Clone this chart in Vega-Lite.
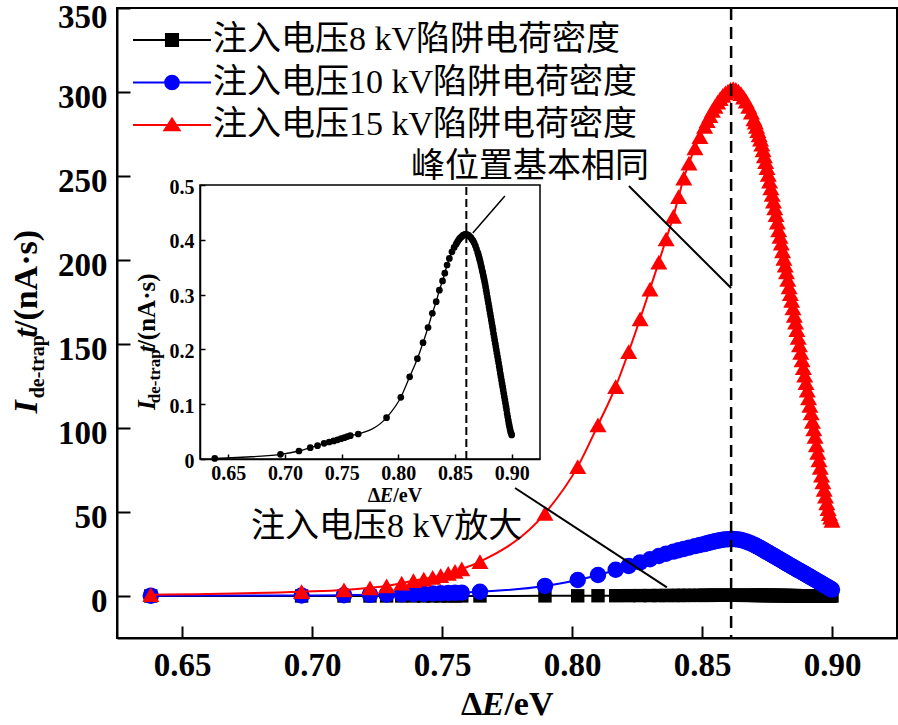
{
"$schema":"https://vega.github.io/schema/vega-lite/v6.json",
"width":780,"height":630,
"autosize":{"type":"none"},
"padding":{"left":117,"top":8,"right":1,"bottom":87},
"background":"white",
"config":{"view":{"stroke":"black","strokeWidth":2},"axis":{"grid":false,"domainColor":"black","tickColor":"black","labelColor":"black","labelFont":"Liberation Serif","labelFontWeight":"bold","labelOverlap":false,"labelFlush":false}},
"datasets":{"d":[
{"x":0.638,"k8":0.001,"k10":0.2,"k15":0.8},
{"x":0.696,"k8":0.0086,"k10":0.3,"k15":2.6},
{"x":0.7123,"k8":0.0146,"k10":0.5,"k15":3.6},
{"x":0.7223,"k8":0.0207,"k10":0.7,"k15":4.9},
{"x":0.7287,"k8":0.0243,"k10":0.9,"k15":6.0},
{"x":0.7345,"k8":0.0286,"k10":1.0,"k15":7.6},
{"x":0.739,"k8":0.031,"k10":1.2,"k15":9.1},
{"x":0.743,"k8":0.033,"k10":1.3,"k15":10.1},
{"x":0.7464,"k8":0.035,"k10":1.5,"k15":11.1},
{"x":0.7495,"k8":0.037,"k10":1.6,"k15":12.1},
{"x":0.7524,"k8":0.039,"k10":1.8,"k15":13.5},
{"x":0.755,"k8":0.041,"k10":1.9,"k15":14.7},
{"x":0.7576,"k8":0.0425,"k10":2.0,"k15":16.1},
{"x":0.7646,"k8":0.0456,"k10":2.5,"k15":20.5},
{"x":0.7896,"k8":0.0754,"k10":6.0,"k15":49.2},
{"x":0.8022,"k8":0.1126,"k10":9.5,"k15":77},
{"x":0.81,"k8":0.150,"k10":12.5,"k15":101.8},
{"x":0.8168,"k8":0.183,"k10":15.6,"k15":124.6},
{"x":0.8218,"k8":0.2122,"k10":17.9,"k15":145.4},
{"x":0.8262,"k8":0.240,"k10":20.0,"k15":165},
{"x":0.83,"k8":0.266,"k10":21.9,"k15":182.7},
{"x":0.8334,"k8":0.287,"k10":23.8,"k15":198.8},
{"x":0.8362,"k8":0.308,"k10":25.2,"k15":212.5},
{"x":0.839,"k8":0.325,"k10":26.4,"k15":226},
{"x":0.841,"k8":0.339,"k10":27.2,"k15":237.7},
{"x":0.843,"k8":0.354,"k10":28.0,"k15":248.8},
{"x":0.845,"k8":0.366,"k10":28.8,"k15":257.7},
{"x":0.8473,"k8":0.378,"k10":29.7,"k15":266.7},
{"x":0.8492,"k8":0.386,"k10":30.4,"k15":273.4},
{"x":0.851,"k8":0.392,"k10":31.0,"k15":279.5},
{"x":0.852,"k8":0.396,"k10":31.4,"k15":283},
{"x":0.853,"k8":0.399,"k10":31.8,"k15":286},
{"x":0.854,"k8":0.402,"k10":32.2,"k15":289},
{"x":0.855,"k8":0.404,"k10":32.6,"k15":291.5},
{"x":0.856,"k8":0.406,"k10":32.9,"k15":294},
{"x":0.857,"k8":0.408,"k10":33.2,"k15":296},
{"x":0.858,"k8":0.409,"k10":33.5,"k15":298},
{"x":0.859,"k8":0.410,"k10":33.7,"k15":299.5},
{"x":0.86,"k8":0.410,"k10":33.8,"k15":300.5},
{"x":0.861,"k8":0.409,"k10":33.9,"k15":301.5},
{"x":0.862,"k8":0.408,"k10":33.9,"k15":302},
{"x":0.863,"k8":0.406,"k10":33.8,"k15":301.5},
{"x":0.864,"k8":0.404,"k10":33.6,"k15":300.5},
{"x":0.865,"k8":0.401,"k10":33.3,"k15":299},
{"x":0.866,"k8":0.398,"k10":32.9,"k15":297},
{"x":0.867,"k8":0.394,"k10":32.4,"k15":294.5},
{"x":0.868,"k8":0.389,"k10":31.8,"k15":291.5},
{"x":0.869,"k8":0.383,"k10":31.2,"k15":288},
{"x":0.87,"k8":0.377,"k10":30.5,"k15":284},
{"x":0.8705,"k8":0.374,"k10":30.1,"k15":282},
{"x":0.871,"k8":0.370,"k10":29.7,"k15":279.5},
{"x":0.8715,"k8":0.366,"k10":29.3,"k15":277},
{"x":0.872,"k8":0.362,"k10":28.9,"k15":274.5},
{"x":0.8725,"k8":0.358,"k10":28.5,"k15":272},
{"x":0.873,"k8":0.353,"k10":28.0,"k15":269},
{"x":0.8735,"k8":0.349,"k10":27.6,"k15":265.5},
{"x":0.874,"k8":0.344,"k10":27.1,"k15":262},
{"x":0.8745,"k8":0.340,"k10":26.7,"k15":258.5},
{"x":0.875,"k8":0.335,"k10":26.2,"k15":255},
{"x":0.8755,"k8":0.330,"k10":25.8,"k15":251},
{"x":0.876,"k8":0.325,"k10":25.3,"k15":247},
{"x":0.8765,"k8":0.320,"k10":24.9,"k15":243},
{"x":0.877,"k8":0.314,"k10":24.4,"k15":239},
{"x":0.8775,"k8":0.308,"k10":24.0,"k15":235},
{"x":0.878,"k8":0.302,"k10":23.5,"k15":231},
{"x":0.8785,"k8":0.296,"k10":23.1,"k15":227},
{"x":0.879,"k8":0.290,"k10":22.6,"k15":222.5},
{"x":0.8795,"k8":0.284,"k10":22.2,"k15":218},
{"x":0.88,"k8":0.278,"k10":21.7,"k15":214},
{"x":0.8805,"k8":0.272,"k10":21.3,"k15":210},
{"x":0.881,"k8":0.266,"k10":20.8,"k15":205.5},
{"x":0.8815,"k8":0.260,"k10":20.4,"k15":201},
{"x":0.882,"k8":0.254,"k10":19.9,"k15":197},
{"x":0.8825,"k8":0.248,"k10":19.5,"k15":193},
{"x":0.883,"k8":0.242,"k10":19.0,"k15":188.5},
{"x":0.8835,"k8":0.236,"k10":18.6,"k15":184},
{"x":0.884,"k8":0.229,"k10":18.1,"k15":180},
{"x":0.8845,"k8":0.223,"k10":17.7,"k15":176},
{"x":0.885,"k8":0.217,"k10":17.2,"k15":171.5},
{"x":0.8855,"k8":0.211,"k10":16.8,"k15":167},
{"x":0.886,"k8":0.205,"k10":16.3,"k15":163},
{"x":0.8865,"k8":0.199,"k10":15.9,"k15":158.5},
{"x":0.887,"k8":0.193,"k10":15.4,"k15":154},
{"x":0.8875,"k8":0.187,"k10":15.0,"k15":149.5},
{"x":0.888,"k8":0.181,"k10":14.6,"k15":145},
{"x":0.8885,"k8":0.175,"k10":14.2,"k15":140.5},
{"x":0.889,"k8":0.169,"k10":13.7,"k15":136},
{"x":0.8895,"k8":0.163,"k10":13.3,"k15":131.5},
{"x":0.89,"k8":0.156,"k10":12.8,"k15":127},
{"x":0.8905,"k8":0.150,"k10":12.4,"k15":122.5},
{"x":0.891,"k8":0.144,"k10":11.9,"k15":118},
{"x":0.8915,"k8":0.138,"k10":11.5,"k15":113.5},
{"x":0.892,"k8":0.132,"k10":11.0,"k15":109},
{"x":0.8925,"k8":0.126,"k10":10.6,"k15":104},
{"x":0.893,"k8":0.120,"k10":10.1,"k15":99.5},
{"x":0.8935,"k8":0.114,"k10":9.7,"k15":95},
{"x":0.894,"k8":0.108,"k10":9.2,"k15":90},
{"x":0.8945,"k8":0.102,"k10":8.8,"k15":85.5},
{"x":0.895,"k8":0.096,"k10":8.3,"k15":81},
{"x":0.8955,"k8":0.090,"k10":7.9,"k15":76.5},
{"x":0.896,"k8":0.083,"k10":7.4,"k15":72},
{"x":0.8965,"k8":0.077,"k10":7.0,"k15":68},
{"x":0.897,"k8":0.071,"k10":6.5,"k15":63.5},
{"x":0.8975,"k8":0.065,"k10":6.1,"k15":59.5},
{"x":0.898,"k8":0.060,"k10":5.6,"k15":55.5},
{"x":0.8985,"k8":0.055,"k10":5.2,"k15":52},
{"x":0.899,"k8":0.050,"k10":4.7,"k15":49},
{"x":0.8995,"k8":0.047,"k10":4.3,"k15":47},
{"x":0.9,"k8":0.044,"k10":3.8,"k15":45}
]},
"data":{"name":"d"},
"resolve":{"scale":{"x":"independent","y":"independent"}},
"layer":[
{"layer":[
 {"transform":[{"fold":["k8","k10","k15"],"as":["k","v"]},{"filter":"datum.k==='k8'"}],
  "mark":{"type":"line","strokeWidth":2,"interpolate":"monotone"},
  "encoding":{
   "x":{"field":"x","type":"quantitative","title":null,"scale":{"domain":[0.625,0.925],"nice":false,"zero":false},"axis":{"orient":"bottom","values":[0.65,0.7,0.75,0.8,0.85,0.9],"format":".2f","tickSize":-12,"tickWidth":2,"domainWidth":2,"labelFontSize":33,"labelPadding":23}},
   "y":{"field":"v","type":"quantitative","title":null,"scale":{"domain":[-25,350],"nice":false,"zero":false},"axis":{"orient":"left","values":[0,50,100,150,200,250,300,350],"tickSize":-13,"tickWidth":2,"domainWidth":2,"labelFontSize":33,"labelPadding":23,"labelOffset":{"condition":{"test":"datum.value >= 350","value":9},"value":5}}},
   "color":{"field":"k","type":"nominal","scale":{"domain":["k8","k10","k15"],"range":["#000000","#0000ff","#ff0000"]},
    "legend":{"orient":"none","legendX":38,"legendY":15,"padding":0,"title":null,"direction":"vertical",
     "labelExpr":"'注入电压' + slice(datum.label,1) + ' kV陷阱电荷密度'",
     "labelFont":"Liberation Serif, Noto Sans CJK SC","labelFontSize":34,"labelLimit":800,"labelColor":"black",
     "symbolSize":380,"symbolStrokeWidth":2,"rowPadding":8.5,"labelOffset":24,
     "encode":{"symbols":{"update":{
       "shape":{"signal":"datum.value === 'k8' ? 'M-4,0H4M-0.62,-0.62H0.62V0.62H-0.62Z' : datum.value === 'k10' ? 'M-4,0H4M-0.7,0A0.7,0.7,0,1,1,0.7,0A0.7,0.7,0,1,1,-0.7,0Z' : 'M-4,0H4M-0.78,0.55L0,-0.65L0.78,0.55Z'"},
       "fill":{"signal":"datum.value === 'k8' ? '#000000' : datum.value === 'k10' ? '#0000ff' : '#ff0000'"},
       "stroke":{"signal":"datum.value === 'k8' ? '#000000' : datum.value === 'k10' ? '#0000ff' : '#ff0000'"},
       "fillOpacity":{"value":1},"opacity":{"value":1},"strokeWidth":{"value":2}}}}}}
  }},
 {"transform":[{"fold":["k8","k10","k15"],"as":["k","v"]},{"filter":"datum.k==='k8'"}],
  "mark":{"type":"point","shape":"square","filled":true,"size":180,"opacity":1,"color":"#000000"},
  "encoding":{"x":{"field":"x","type":"quantitative","title":null},"y":{"field":"v","type":"quantitative","title":null}}},
 {"transform":[{"fold":["k8","k10","k15"],"as":["k","v"]},{"filter":"datum.k==='k10'"}],
  "mark":{"type":"line","strokeWidth":2,"interpolate":"monotone"},
  "encoding":{"x":{"field":"x","type":"quantitative","title":null},"y":{"field":"v","type":"quantitative","title":null},"color":{"field":"k","type":"nominal"}}},
 {"transform":[{"fold":["k8","k10","k15"],"as":["k","v"]},{"filter":"datum.k==='k10'"}],
  "mark":{"type":"point","shape":"circle","filled":true,"size":270,"opacity":1,"color":"#0000ff"},
  "encoding":{"x":{"field":"x","type":"quantitative","title":null},"y":{"field":"v","type":"quantitative","title":null}}},
 {"transform":[{"fold":["k8","k10","k15"],"as":["k","v"]},{"filter":"datum.k==='k15'"}],
  "mark":{"type":"line","strokeWidth":2,"interpolate":"monotone"},
  "encoding":{"x":{"field":"x","type":"quantitative","title":null},"y":{"field":"v","type":"quantitative","title":null},"color":{"field":"k","type":"nominal"}}},
 {"transform":[{"fold":["k8","k10","k15"],"as":["k","v"]},{"filter":"datum.k==='k15'"}],
  "mark":{"type":"point","shape":"triangle-up","filled":true,"size":290,"opacity":1,"color":"#ff0000"},
  "encoding":{"x":{"field":"x","type":"quantitative","title":null},"y":{"field":"v","type":"quantitative","title":null}}},
 {"data":{"values":[{}]},"mark":{"type":"rule","strokeDash":[12,7],"strokeWidth":2.5,"color":"black"},
  "encoding":{"x":{"datum":0.8612,"type":"quantitative"}}},
 {"data":{"values":[{}]},"mark":{"type":"rule","strokeWidth":2,"color":"black"},
  "encoding":{"x":{"datum":0.8219,"type":"quantitative"},"y":{"datum":244.0,"type":"quantitative"},"x2":{"datum":0.8612},"y2":{"datum":183.3}}},
 {"data":{"values":[{}]},"mark":{"type":"rule","strokeWidth":2,"color":"black"},
  "encoding":{"x":{"datum":0.7781,"type":"quantitative"},"y":{"datum":64.3,"type":"quantitative"},"x2":{"datum":0.8365},"y2":{"datum":5.1}}},
 {"data":{"values":[{}]},"mark":{"type":"text","text":"峰位置基本相同","font":"Liberation Serif, Noto Sans CJK SC","fontSize":34,"align":"center","baseline":"middle","color":"black"},
  "encoding":{"x":{"datum":0.7838,"type":"quantitative"},"y":{"datum":255.4,"type":"quantitative"}}},
 {"data":{"values":[{}]},"mark":{"type":"text","text":"注入电压8 kV放大","font":"Liberation Serif, Noto Sans CJK SC","fontSize":34,"align":"center","baseline":"middle","color":"black"},
  "encoding":{"x":{"datum":0.7287,"type":"quantitative"},"y":{"datum":41.1,"type":"quantitative"}}},
 {"data":{"values":[{}]},"mark":{"type":"text","text":"I","font":"Liberation Serif","fontSize":34,"fontStyle":"italic","fontWeight":"bold","angle":270,"align":"center","baseline":"middle","color":"black"},
  "encoding":{"x":{"datum":0.5905,"type":"quantitative"},"y":{"datum":112.5,"type":"quantitative"}}},
 {"data":{"values":[{}]},"mark":{"type":"text","text":"de-trap","font":"Liberation Serif","fontSize":20,"fontWeight":"bold","angle":270,"align":"center","baseline":"middle","color":"black"},
  "encoding":{"x":{"datum":0.5947,"type":"quantitative"},"y":{"datum":136.5,"type":"quantitative"}}},
 {"data":{"values":[{}]},"mark":{"type":"text","text":"t","font":"Liberation Serif","fontSize":34,"fontStyle":"italic","fontWeight":"bold","angle":270,"align":"center","baseline":"middle","color":"black"},
  "encoding":{"x":{"datum":0.5905,"type":"quantitative"},"y":{"datum":156.5,"type":"quantitative"}}},
 {"data":{"values":[{}]},"mark":{"type":"text","text":"/(nA·s)","font":"Liberation Serif","fontSize":34,"fontWeight":"bold","angle":270,"align":"center","baseline":"middle","color":"black"},
  "encoding":{"x":{"datum":0.5905,"type":"quantitative"},"y":{"datum":188.1,"type":"quantitative"}}},
 {"data":{"values":[{}]},"mark":{"type":"text","text":"Δ","font":"Liberation Serif","fontSize":34,"fontWeight":"bold","align":"left","baseline":"middle","color":"black"},
  "encoding":{"x":{"datum":0.7573,"type":"quantitative"},"y":{"datum":-64.9,"type":"quantitative"}}},
 {"data":{"values":[{}]},"mark":{"type":"text","text":"E","font":"Liberation Serif","fontSize":34,"fontStyle":"italic","fontWeight":"bold","align":"left","baseline":"middle","color":"black"},
  "encoding":{"x":{"datum":0.7653,"type":"quantitative"},"y":{"datum":-64.9,"type":"quantitative"}}},
 {"data":{"values":[{}]},"mark":{"type":"text","text":"/eV","font":"Liberation Serif","fontSize":34,"fontWeight":"bold","align":"left","baseline":"middle","color":"black"},
  "encoding":{"x":{"datum":0.774,"type":"quantitative"},"y":{"datum":-64.9,"type":"quantitative"}}}
]},
{"layer":[
 {"data":{"values":[{}]},"mark":{"type":"rect","fillOpacity":0,"stroke":"black","strokeWidth":1.5},
  "encoding":{"x":{"datum":0.625,"type":"quantitative","scale":{"domain":[0.625,0.925],"range":[83,423],"nice":false,"zero":false},
    "axis":{"orient":"bottom","offset":-179,"values":[0.65,0.7,0.75,0.8,0.85,0.9],"format":".2f","tickSize":-5,"tickWidth":1.5,"domainWidth":1.5,"labelFontSize":20,"labelPadding":9,"title":null,"zindex":2}},
   "y":{"datum":0,"type":"quantitative","scale":{"domain":[0,0.5],"range":[451,177],"nice":false,"zero":false},
    "axis":{"orient":"left","offset":-83,"values":[0,0.1,0.2,0.3,0.4,0.5],"format":"~g","tickSize":-5,"tickWidth":1.5,"domainWidth":1.5,"labelFontSize":20,"labelPadding":11,"labelOffset":2,"title":null,"zindex":2}},
   "x2":{"datum":0.925},"y2":{"datum":0.5}}},
 {"data":{"values":[{}]},"mark":{"type":"rule","strokeDash":[8,4],"strokeWidth":2,"color":"black"},
  "encoding":{"x":{"datum":0.86,"type":"quantitative"},"y":{"datum":0,"type":"quantitative"},"y2":{"datum":0.5}}},
 {"mark":{"type":"line","strokeWidth":1.3,"interpolate":"monotone","color":"black"},
  "encoding":{"x":{"field":"x","type":"quantitative","title":null},"y":{"field":"k8","type":"quantitative","title":null}}},
 {"mark":{"type":"point","shape":"circle","filled":true,"size":45,"opacity":1,"color":"black"},
  "encoding":{"x":{"field":"x","type":"quantitative","title":null},"y":{"field":"k8","type":"quantitative","title":null}}},
 {"data":{"values":[{}]},"mark":{"type":"rule","strokeWidth":1.5,"color":"black"},
  "encoding":{"x":{"datum":0.8657,"type":"quantitative"},"y":{"datum":0.4124,"type":"quantitative"},"x2":{"datum":0.894},"y2":{"datum":0.48}}},
 {"data":{"values":[{}]},"mark":{"type":"text","text":"I","font":"Liberation Serif","fontSize":25,"fontStyle":"italic","fontWeight":"bold","angle":270,"align":"center","baseline":"middle","color":"black"},
  "encoding":{"x":{"datum":0.5783,"type":"quantitative"},"y":{"datum":0.0984,"type":"quantitative"}}},
 {"data":{"values":[{}]},"mark":{"type":"text","text":"de-trap","font":"Liberation Serif","fontSize":17,"fontWeight":"bold","angle":270,"align":"center","baseline":"middle","color":"black"},
  "encoding":{"x":{"datum":0.5853,"type":"quantitative"},"y":{"datum":0.1509,"type":"quantitative"}}},
 {"data":{"values":[{}]},"mark":{"type":"text","text":"t","font":"Liberation Serif","fontSize":25,"fontStyle":"italic","fontWeight":"bold","angle":270,"align":"center","baseline":"middle","color":"black"},
  "encoding":{"x":{"datum":0.5783,"type":"quantitative"},"y":{"datum":0.2011,"type":"quantitative"}}},
 {"data":{"values":[{}]},"mark":{"type":"text","text":"/(nA·s)","font":"Liberation Serif","fontSize":25,"fontWeight":"bold","angle":270,"align":"center","baseline":"middle","color":"black"},
  "encoding":{"x":{"datum":0.5783,"type":"quantitative"},"y":{"datum":0.2714,"type":"quantitative"}}},
 {"data":{"values":[{}]},"mark":{"type":"text","text":"Δ","font":"Liberation Serif","fontSize":20,"fontWeight":"bold","align":"left","baseline":"middle","color":"black"},
  "encoding":{"x":{"datum":0.773,"type":"quantitative"},"y":{"datum":-0.0675,"type":"quantitative"}}},
 {"data":{"values":[{}]},"mark":{"type":"text","text":"E","font":"Liberation Serif","fontSize":20,"fontStyle":"italic","fontWeight":"bold","align":"left","baseline":"middle","color":"black"},
  "encoding":{"x":{"datum":0.7837,"type":"quantitative"},"y":{"datum":-0.0675,"type":"quantitative"}}},
 {"data":{"values":[{}]},"mark":{"type":"text","text":"/eV","font":"Liberation Serif","fontSize":20,"fontWeight":"bold","align":"left","baseline":"middle","color":"black"},
  "encoding":{"x":{"datum":0.7955,"type":"quantitative"},"y":{"datum":-0.0675,"type":"quantitative"}}}
]}
]
}
